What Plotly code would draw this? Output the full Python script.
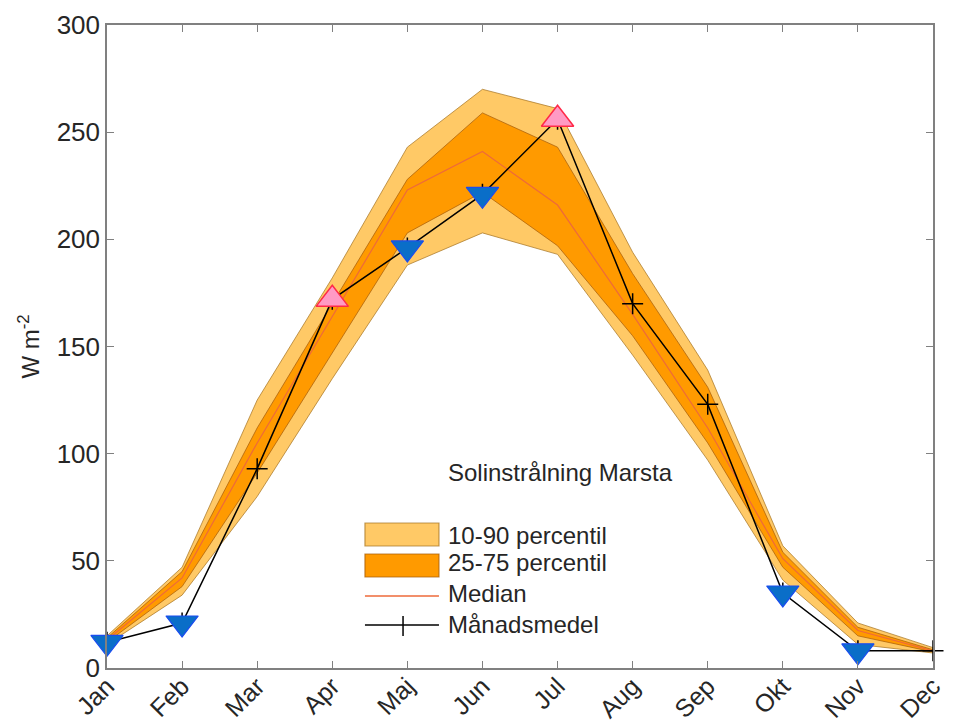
import plotly.graph_objects as go

# ---------------- data ----------------
months = ['Jan', 'Feb', 'Mar', 'Apr', 'Maj', 'Jun', 'Jul', 'Aug', 'Sep', 'Okt', 'Nov', 'Dec']
p10 = [11, 34, 80, 135, 188, 203, 193, 146, 97, 41, 11, 7]
p25 = [12, 38, 91, 147, 203, 222, 197, 155, 105, 47, 15, 7.5]
median = [13, 42, 105, 164, 223, 241, 216, 165, 112, 51, 17.5, 8]
p75 = [14, 45, 112, 170, 228, 259, 243, 184, 131, 54, 19, 8.5]
p90 = [15, 47, 125, 182, 243, 270, 261, 194, 139, 57, 21, 9.5]
mean = [12, 21, 93, 172, 196, 221, 256, 170, 123, 35, 8, 8]
low_months = ['Jan', 'Feb', 'Maj', 'Jun', 'Okt', 'Nov']
high_months = ['Apr', 'Jul']
yticks = [0, 50, 100, 150, 200, 250, 300]

title_text = 'Solinstrålning Marsta'
legend_labels = ['10-90 percentil', '25-75 percentil', 'Median', 'Månadsmedel']

# ---------------- styles ----------------
FONT = 'Liberation Sans, Arial, Helvetica, sans-serif'
TXT = '#262626'
LIGHT = '#FFC966'
LIGHT_EDGE = 'rgba(170,120,40,0.75)'
DARK = '#FF9A00'
DARK_EDGE = 'rgba(170,95,10,0.75)'
MED_COL = '#EE6A3A'
AX = '#808080'

fig = go.Figure()

# 10-90 band
fig.add_trace(go.Scatter(
    x=months + months[::-1], y=p90 + p10[::-1], mode='lines', fill='toself',
    fillcolor=LIGHT, line=dict(color=LIGHT_EDGE, width=1), hoverinfo='skip',
    showlegend=False))
# 25-75 band
fig.add_trace(go.Scatter(
    x=months + months[::-1], y=p75 + p25[::-1], mode='lines', fill='toself',
    fillcolor=DARK, line=dict(color=DARK_EDGE, width=1), hoverinfo='skip',
    showlegend=False))
# median
fig.add_trace(go.Scatter(x=months, y=median, mode='lines',
                         line=dict(color=MED_COL, width=1.2), showlegend=False))
# monthly mean
fig.add_trace(go.Scatter(x=months, y=mean, mode='lines+markers',
                         line=dict(color='black', width=1.5),
                         marker=dict(symbol='cross-thin', size=15,
                                     line=dict(color='black', width=1.5)),
                         cliponaxis=False, showlegend=False))
# below 25th percentile
fig.add_trace(go.Scatter(
    x=low_months, y=[mean[months.index(m)] for m in low_months], mode='markers',
    marker=dict(symbol='triangle-down', size=28, color='#0A6EC8',
                line=dict(color='#1A4CF0', width=1.2)),
    cliponaxis=False, showlegend=False))
# above 75th percentile
fig.add_trace(go.Scatter(
    x=high_months, y=[mean[months.index(m)] for m in high_months], mode='markers',
    marker=dict(symbol='triangle-up', size=28, color='#FF9AC4',
                line=dict(color='#FF2A48', width=1.5)),
    cliponaxis=False, showlegend=False))

# ---------------- manual legend (layout, paper coords) ----------------
sx0, sx1 = 0.3123, 0.4019
shapes = [
    dict(type='rect', xref='paper', yref='paper', x0=sx0, x1=sx1, y0=0.1897, y1=0.2255,
         fillcolor=LIGHT, line=dict(color=LIGHT_EDGE, width=1.2)),
    dict(type='rect', xref='paper', yref='paper', x0=sx0, x1=sx1, y0=0.1415, y1=0.1773,
         fillcolor=DARK, line=dict(color=DARK_EDGE, width=1.2)),
    dict(type='line', xref='paper', yref='paper', x0=sx0, x1=sx1, y0=0.1120, y1=0.1120,
         line=dict(color=MED_COL, width=1.5)),
    dict(type='line', xref='paper', yref='paper', x0=sx0, x1=sx1, y0=0.0669, y1=0.0669,
         line=dict(color='black', width=1.5)),
    dict(type='line', xref='paper', yref='paper', x0=0.3584, x1=0.3584, y0=0.0498, y1=0.0809,
         line=dict(color='black', width=1.5)),
]
annotations = [
    dict(text=title_text, xref='paper', yref='paper', x=0.4104, y=0.3033,
         xanchor='left', yanchor='middle', showarrow=False,
         font=dict(family=FONT, size=24, color=TXT)),
]
for lab, yy in zip(legend_labels, [0.2068, 0.1633, 0.1151, 0.0684]):
    annotations.append(dict(text=lab, xref='paper', yref='paper', x=0.4104, y=yy,
                            xanchor='left', yanchor='middle', showarrow=False,
                            font=dict(family=FONT, size=24, color=TXT)))

# page body has an 8px default margin, so the figure is shrunk by that amount
fig.update_layout(
    width=945, height=714,
    margin=dict(l=99, r=20, t=17, b=54),
    paper_bgcolor='white', plot_bgcolor='white',
    font=dict(family=FONT, size=26, color=TXT),
    shapes=shapes, annotations=annotations,
    showlegend=False,
)
fig.update_xaxes(
    type='category', categoryorder='array', categoryarray=months,
    range=[0, 11], showgrid=False, zeroline=False, automargin=False,
    showline=True, linecolor=AX, linewidth=1.5, mirror='ticks',
    ticks='inside', ticklen=7, tickcolor=AX, tickwidth=1.2,
    tickangle=-45, tickfont=dict(size=25, color=TXT), ticklabelstandoff=-8)
fig.update_yaxes(
    range=[0, 300], tickvals=yticks, showgrid=False, zeroline=False, automargin=False,
    showline=True, linecolor=AX, linewidth=1.5, mirror='ticks',
    ticks='inside', ticklen=7, tickcolor=AX, tickwidth=1.2,
    tickfont=dict(size=26, color=TXT),
    title=dict(text='W m<sup>-2</sup>', font=dict(size=24, color=TXT), standoff=10))

fig.write_html('out.html')
